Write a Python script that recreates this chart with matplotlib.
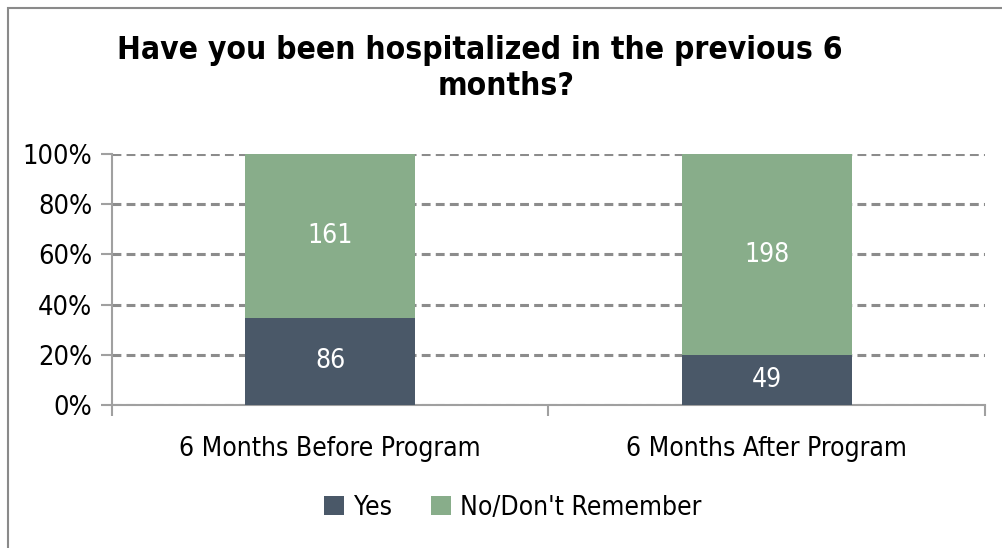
import matplotlib
matplotlib.use("Agg")
import matplotlib.pyplot as plt
from matplotlib.patches import Rectangle
import numpy as np

# data
categories = ["6 Months Before Program", "6 Months After Program"]
yes_counts = [86, 49]
no_counts = [161, 198]
series_names = ["Yes", "No/Don't Remember"]
ytick_labels = ["0%", "20%", "40%", "60%", "80%", "100%"]

col_yes = "#4a5868"
col_no = "#88ad8a"
grid_col = "#8c8c8c"

plt.rcParams["font.family"] = ["DejaVu Sans"]
plt.rcParams["font.stretch"] = "condensed"

fig = plt.figure(figsize=(10.03, 5.48), dpi=100)
ax = fig.add_axes([112/1003, 1-405/548, (985-112)/1003, (405-154)/548])

# border round the whole chart
fig.patches.append(Rectangle((8/1003, -0.01), 1.02, 1-8/548+0.01, transform=fig.transFigure,
                             fill=False, edgecolor="#8a8a8a", linewidth=1.5))

yes = np.array(yes_counts, dtype=float)
no = np.array(no_counts, dtype=float)
tot = yes + no
x = np.arange(len(categories))
w = 0.39

ax.bar(x, yes/tot, w, color=col_yes, label=series_names[0], zorder=3)
ax.bar(x, no/tot, w, bottom=yes/tot, color=col_no, label=series_names[1], zorder=3)

for i in range(len(x)):
    ax.text(x[i], yes[i]/tot[i]/2, str(yes_counts[i]), ha="center", va="center",
            color="white", fontsize=19, zorder=4)
    ax.text(x[i], yes[i]/tot[i] + no[i]/tot[i]/2, str(no_counts[i]), ha="center", va="center",
            color="white", fontsize=19, zorder=4)

ax.set_xlim(-0.5, 1.5)
ax.set_ylim(0, 1)
ax.set_yticks(np.linspace(0, 1, 6))
ax.set_yticklabels(ytick_labels, fontsize=19.5)
ax.yaxis.grid(True, linestyle=(0, (2.9, 1.7)), color=grid_col, linewidth=2.2, zorder=0)

ax.set_xticks(x)
ax.set_xticklabels(categories, fontsize=19)
ax.tick_params(axis="x", length=0, pad=22)
ax.set_xticks([-0.5, 0.5, 1.5], minor=True)
ax.tick_params(axis="x", which="minor", length=8, color="#a0a0a0", width=1.5)
ax.tick_params(axis="y", length=8, color="#a0a0a0", width=1.5, pad=6)

for s in ["top", "right"]:
    ax.spines[s].set_visible(False)
for s in ["left", "bottom"]:
    ax.spines[s].set_color("#a0a0a0")
    ax.spines[s].set_linewidth(1.5)

fig.text(480/1003, 1-50/548, "Have you been hospitalized in the previous 6", fontsize=22.8,
         fontweight="bold", ha="center", va="center")
fig.text(506/1003, 1-87/548, "months?", fontsize=22.8,
         fontweight="bold", ha="center", va="center")

ax.legend(loc="center", bbox_to_anchor=(513/1003, 1-508/548), bbox_transform=fig.transFigure,
          ncol=2, frameon=False, fontsize=19, handlelength=0.75, handleheight=0.75,
          handletextpad=0.35, columnspacing=1.5)

fig.savefig("out.png", dpi=100)
